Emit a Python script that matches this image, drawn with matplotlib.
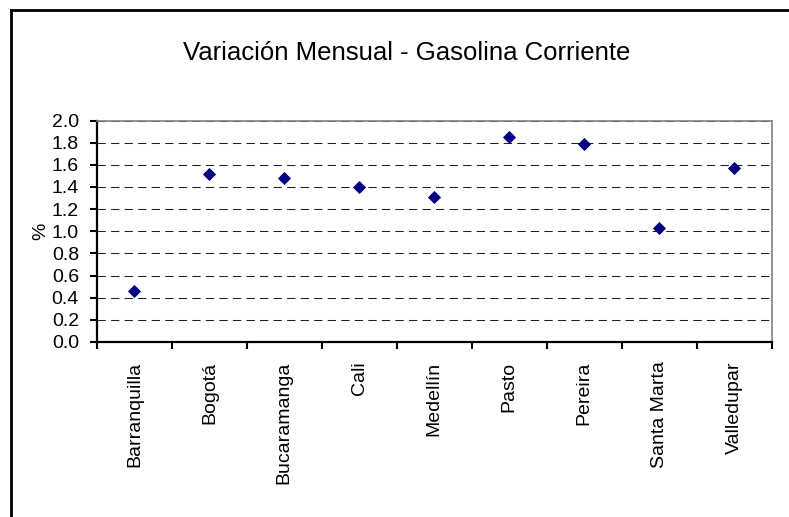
import numpy as np
import matplotlib.pyplot as plt
from matplotlib.lines import Line2D
from matplotlib.ticker import FormatStrFormatter

plt.rcParams['font.family'] = ['Liberation Sans', 'DejaVu Sans']

# monthly change of regular gasoline price by city (%)
ciudades = ['Barranquilla', 'Bogotá', 'Bucaramanga', 'Cali', 'Medellín',
            'Pasto', 'Pereira', 'Santa Marta', 'Valledupar']
variacion = [0.46, 1.52, 1.48, 1.40, 1.31, 1.85, 1.79, 1.03, 1.57]

fig = plt.figure(figsize=(7.89, 5.17), dpi=100)
ax = fig.add_axes([0.1229, 0.3385, 0.855, 0.4284])

x = np.arange(len(ciudades)) + 0.5
ax.plot(x, variacion, linestyle='none', marker='D', markersize=6.6,
        color='#000080', markeredgecolor='#000080', markeredgewidth=0.6, zorder=3)

ax.set_xlim(0, len(ciudades))
ax.set_ylim(0, 2.0)

# category boundaries get the tick marks, labels sit in between
ax.set_xticks(np.arange(len(ciudades) + 1))
ax.set_xticklabels([])
ax.set_xticks(x, minor=True)
ax.set_xticklabels(ciudades, minor=True, rotation=90, fontsize=14, va='top')
ax.tick_params(axis='x', which='major', direction='out', length=5, width=1.5)
ax.tick_params(axis='x', which='minor', length=0, pad=14)

ax.set_yticks(np.arange(0, 2.01, 0.2))
ax.yaxis.set_major_formatter(FormatStrFormatter('%.1f'))
ax.tick_params(axis='y', direction='out', length=5, width=1.5, labelsize=14, pad=8)

ax.grid(axis='y', color='#202020', linestyle=(0, (8, 5)), linewidth=0.75)
ax.set_axisbelow(True)

for side in ['left', 'bottom']:
    ax.spines[side].set_linewidth(1.6)
    ax.spines[side].set_color('black')
for side in ['top', 'right']:
    ax.spines[side].set_linewidth(1.2)
    ax.spines[side].set_color('#808080')

ax.set_ylabel('%', fontsize=14, labelpad=2)

fig.text(0.515, 0.897, 'Variación Mensual - Gasolina Corriente',
         ha='center', va='center', fontsize=18.5)

# chart area frame
fig.add_artist(Line2D([11 / 789, 1.0], [1 - 10 / 517, 1 - 10 / 517],
                      transform=fig.transFigure, color='black', linewidth=2))
fig.add_artist(Line2D([11 / 789, 11 / 789], [0.0, 1 - 10 / 517],
                      transform=fig.transFigure, color='black', linewidth=2))

fig.savefig('out.png', dpi=100)
